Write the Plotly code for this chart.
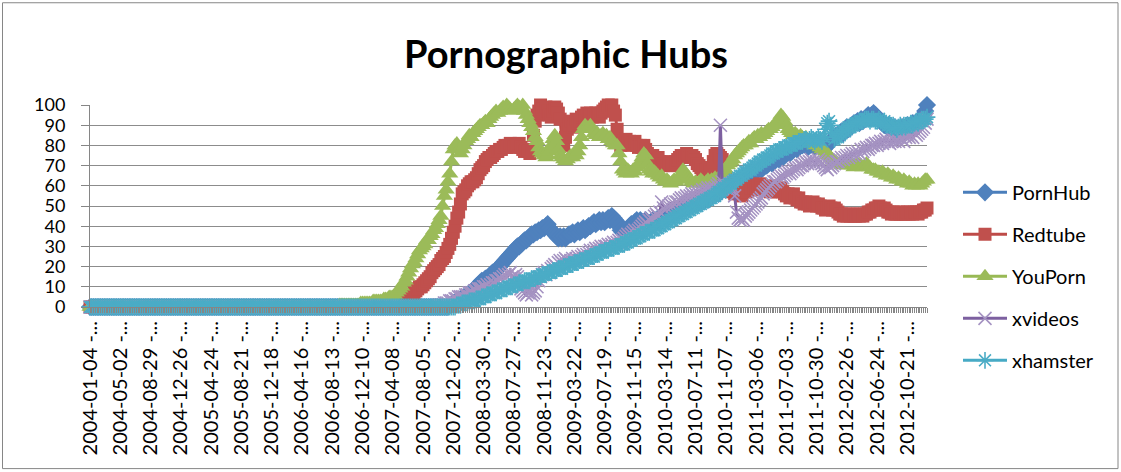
import pandas as pd
import plotly.graph_objects as go

N = 471
weeks = pd.date_range("2004-01-04", periods=N, freq="7D")
week_labels = [f"{d:%Y-%m-%d} - {(d + pd.Timedelta(days=6)):%Y-%m-%d}" for d in weeks]
label_step = 17

youporn_tail = [  # from week 130
    0,0,0,0,0,0,0,0,0,0,
    1,1,1,1,1,1,1,1,1,1,
    1,1,2,2,2,2,2,2,2,3,
    3,3,3,3,3,4,4,4,5,5,
    5,6,7,8,9,10,12,13,15,17,
    19,21,22,24,26,28,29,30,31,33,
    33,35,36,38,39,41,43,45,50,55,
    58,62,66,72,78,80,81,78,76,78,
    80,82,83,85,84,86,87,88,89,90,
    90,91,92,91,93,94,95,96,97,96,
    97,98,99,98,100,99,98,97,98,99,
    100,99,98,100,97,95,93,91,89,87,
    84,82,79,77,76,75,74,75,77,80,
    83,85,82,78,75,74,73,72,73,74,
    75,74,76,75,77,80,84,88,90,89,
    88,90,88,86,85,86,84,85,86,84,
    85,83,84,82,81,80,80,76,72,68,
    67,66,68,67,66,68,67,69,70,72,
    74,76,75,71,68,67,66,67,66,65,
    64,65,63,62,63,62,61,62,63,62,
    63,64,66,68,67,65,64,63,62,61,
    62,61,62,63,62,61,62,63,62,63,
    63,64,63,64,65,66,67,68,70,71,
    72,73,75,76,77,78,79,80,80,81,
    82,81,83,84,83,85,84,86,85,86,
    87,88,88,89,90,91,92,93,95,94,
    92,90,88,87,86,85,86,85,84,85,
    84,83,84,82,83,81,82,80,81,80,
    79,78,78,77,76,75,74,73,72,72,
    71,71,70,72,71,70,70,71,70,69,
    70,71,70,70,69,70,71,70,69,68,
    68,68,67,67,66,67,66,65,66,65,
    64,65,64,63,64,63,62,63,62,61,
    62,61,60,61,60,61,60,61,62,63,
    63,
]

redtube_tail = [  # from week 170
    0,0,0,0,1,1,2,2,3,4,
    5,6,7,8,9,10,10,11,12,13,
    14,15,17,18,19,20,21,23,24,25,
    27,29,31,34,37,40,44,47,51,56,
    57,58,60,61,62,62,63,64,66,68,
    69,70,72,73,74,74,75,76,77,77,
    78,78,79,80,79,80,81,80,79,80,
    80,81,79,78,77,78,77,76,78,85,
    92,95,97,100,98,96,99,97,95,94,
    97,99,98,96,93,82,80,84,88,90,
    92,89,90,93,91,92,94,95,94,96,
    95,96,94,95,96,95,94,96,97,98,
    99,100,98,100,97,95,88,82,80,81,
    82,83,81,82,80,81,82,80,79,80,
    79,80,78,76,75,74,75,74,73,74,
    72,71,70,71,70,72,71,70,71,72,
    73,74,75,74,75,76,75,74,75,74,
    73,71,70,69,68,67,68,69,68,67,
    72,75,76,75,74,73,66,64,62,60,
    58,57,56,58,57,56,55,57,58,57,
    58,59,60,59,58,60,61,60,59,58,
    59,58,57,59,60,58,57,58,59,57,
    56,55,56,54,55,56,54,53,54,52,
    52,51,52,51,50,51,52,51,50,51,
    50,49,49,48,49,50,49,48,49,48,
    47,46,46,45,46,45,46,45,46,45,
    45,46,45,46,45,46,46,47,47,48,
    48,49,49,50,49,48,49,48,47,47,
    46,47,46,46,47,46,47,46,46,47,
    46,47,46,47,47,46,47,47,48,48,
    49,
]

pornhub_tail = [  # from week 200
    0,0,1,1,2,2,3,3,4,4,
    5,5,6,7,7,8,9,10,11,12,
    13,13,14,14,15,16,17,17,18,19,
    20,21,22,23,24,25,26,27,28,29,
    30,30,31,32,33,33,34,35,36,36,
    37,37,38,38,39,39,40,41,39,38,
    37,36,35,34,35,34,35,34,35,36,
    36,37,36,37,38,37,38,39,38,39,
    40,40,41,42,41,42,43,42,43,42,
    43,44,43,45,44,43,42,40,38,37,
    37,36,38,40,41,40,42,43,42,43,
    42,41,43,42,41,42,43,42,43,44,
    44,45,44,46,45,46,47,46,47,48,
    48,49,48,49,50,49,50,51,50,51,
    52,51,52,53,52,53,54,53,54,55,
    55,56,57,56,57,58,59,58,59,60,
    61,60,62,61,63,62,64,63,64,65,
    65,66,67,66,67,68,69,68,69,70,
    70,71,72,71,72,73,74,73,75,74,
    75,76,77,76,77,78,79,78,79,80,
    80,81,80,79,80,81,80,79,80,81,
    80,79,78,79,80,81,82,83,84,85,
    85,86,87,86,88,89,88,89,90,91,
    91,92,91,93,92,93,94,95,94,95,
    96,95,94,93,92,91,90,90,89,90,
    89,88,89,88,87,88,89,88,89,90,
    89,90,91,90,91,92,91,93,95,97,
    100,
]

xvideos_tail = [  # from week 195
    0,1,1,1,2,
    2,2,3,3,3,4,4,5,5,5,
    5,6,6,7,7,7,8,8,9,9,
    9,10,10,11,10,11,12,12,13,13,
    14,14,15,16,15,16,17,15,14,16,
    15,12,9,8,7,6,7,8,6,7,
    8,10,13,15,16,17,16,18,17,19,
    20,21,20,22,23,22,23,24,23,22,
    23,24,23,24,25,24,25,26,25,26,
    27,28,27,28,29,28,29,30,29,30,
    30,31,30,31,32,31,32,33,32,33,
    34,35,36,35,36,37,38,37,38,39,
    40,41,42,41,43,44,43,45,46,45,
    47,52,49,48,49,50,51,50,51,52,
    52,53,54,53,54,55,54,55,56,55,
    56,57,56,57,58,57,58,59,58,59,
    58,59,60,61,90,62,60,59,60,59,
    60,58,55,47,44,43,44,43,45,46,
    47,48,49,50,51,52,53,54,56,57,
    58,59,60,61,62,62,63,64,65,64,
    65,66,67,66,67,68,69,68,69,70,
    70,71,72,71,72,73,72,71,72,73,
    72,71,70,69,68,70,69,70,71,72,
    72,73,74,73,74,75,74,75,76,75,
    76,77,76,78,77,78,79,78,79,80,
    80,81,80,81,82,81,82,83,82,81,
    82,83,82,83,82,84,83,82,84,85,
    84,85,84,86,85,86,87,88,89,91,
    93,
]

xhamster_tail = [  # from week 205
    0,1,1,1,2,
    2,2,2,3,3,3,3,4,4,4,
    5,5,5,6,6,6,7,7,7,8,
    8,8,9,9,9,10,10,10,11,11,
    11,12,12,12,13,13,13,13,14,14,
    14,15,15,15,16,16,16,17,17,17,
    18,18,18,19,19,19,20,20,20,21,
    21,21,22,22,22,23,23,23,24,24,
    24,25,25,25,26,26,27,27,27,28,
    28,28,29,29,29,30,30,30,31,31,
    31,32,32,33,33,34,34,34,35,35,
    36,36,37,37,37,38,38,38,39,39,
    40,40,41,41,42,42,43,43,44,44,
    45,45,46,46,47,47,48,48,49,49,
    50,50,51,51,52,52,53,53,54,54,
    55,55,56,57,57,58,59,59,60,61,
    61,62,63,63,64,65,65,66,67,67,
    68,68,69,70,70,71,72,72,73,73,
    74,74,75,76,76,77,77,78,78,78,
    79,79,80,80,80,81,81,81,82,82,
    82,83,83,82,83,84,83,82,83,84,
    83,82,84,88,91,92,90,86,83,84,
    84,85,86,87,87,88,89,89,90,90,
    91,91,92,92,92,93,93,93,92,93,
    93,92,92,93,92,91,92,91,90,90,
    89,90,89,88,89,90,89,90,89,90,
    90,91,90,91,92,91,92,92,93,93,
    94,
]

def full(tail):
    return [0] * (N - len(tail)) + tail

series = [
    ("PornHub", full(pornhub_tail), "#4A7EBB", "#4F81BD", "diamond", 14, None),
    ("Redtube", full(redtube_tail), "#BE4B48", "#C0504D", "square", 13, None),
    ("YouPorn", full(youporn_tail), "#98B954", "#9BBB59", "triangle-up", 15, None),
    ("xvideos", full(xvideos_tail), "#7D60A0", "#A593C2", "x-thin", 13, 1.6),
    ("xhamster", full(xhamster_tail), "#46AAC5", "#4BACC6", "asterisk", 14, 1.6),
]

FONT = "Lato"
fig = go.Figure()
for name, vals, lc, mc, sym, size, lw in series:
    marker = dict(symbol=sym, size=size, color=mc,
                  line=dict(color=mc, width=lw if lw else 0))
    fig.add_trace(go.Scatter(
        x=weeks, y=vals, name=name, mode="lines+markers",
        line=dict(color=lc, width=3), marker=marker,
        cliponaxis=False, legendgroup=name,
        customdata=week_labels,
    ))

tickvals = list(weeks[::label_step])
ticktext = [lab[:12] + "..." for lab in week_labels[::label_step]]

L, R, T, B = 90, 927, 105, 307.5
W, H = 1121, 472
pw, ph = R - L, B - T
def px(x): return (x - L) / pw
def py(y): return (B - y) / ph

fig.update_layout(
    width=W, height=H,
    margin=dict(l=L, r=W - R, t=T, b=H - B, pad=0),
    paper_bgcolor="white", plot_bgcolor="white",
    title=dict(text="Pornographic Hubs", x=566 / W, xanchor="center",
               y=1 - 55 / H, yanchor="middle", yref="container",
               font=dict(family=FONT, size=38, color="#000000", weight="bold")),
    showlegend=True,
    legend=dict(x=px(958), y=py(173), xanchor="left", yanchor="top",
                font=dict(family=FONT, size=20, color="#000000"),
                tracegroupgap=13, bgcolor="rgba(0,0,0,0)", itemwidth=44,
                maxheight=400),
    xaxis=dict(type="date", range=[weeks[0], weeks[-1]],
               tickmode="array", tickvals=tickvals, ticktext=ticktext,
               tickangle=-90, ticks="outside", ticklen=5, tickcolor="#868686",
               showline=True, linecolor="#868686", linewidth=1,
               showgrid=False, zeroline=False,
               tickfont=dict(family=FONT, size=20, color="#000000"),
               minor=dict(dtick=7 * 24 * 3600 * 1000, tick0=weeks[0],
                          ticks="outside", ticklen=5, tickcolor="#868686",
                          showgrid=False)),
    yaxis=dict(range=[0, 100], dtick=10, tick0=0,
               ticks="outside", ticklen=8, tickcolor="#868686",
               showline=True, linecolor="#868686", linewidth=1,
               showgrid=True, gridcolor="#8c8c8c", gridwidth=1,
               zeroline=False, ticklabelstandoff=12,
               tickfont=dict(family=FONT, size=18, color="#000000")),
    shapes=[dict(type="rect", xref="paper", yref="paper",
                 x0=px(2.5), x1=px(1118), y0=py(469.5), y1=py(2.5),
                 line=dict(color="#868686", width=1), fillcolor="rgba(0,0,0,0)",
                 layer="below")],
)

fig.write_html("out.html", config={"displayModeBar": False},
               post_script="document.body.style.margin='0';document.body.style.padding='0';")
